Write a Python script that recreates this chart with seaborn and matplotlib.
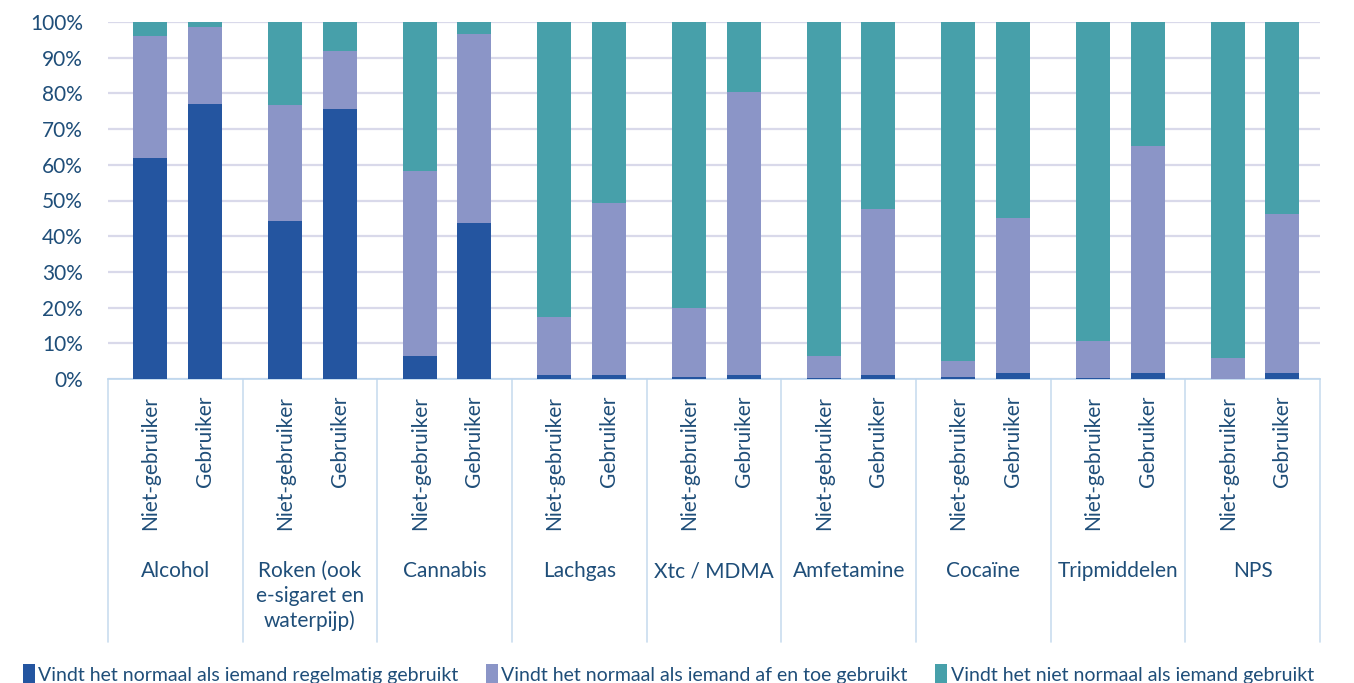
#!/usr/bin/env python3

import matplotlib
matplotlib.use("Agg")
import matplotlib.pyplot as plt
import matplotlib.transforms as mtransforms
from matplotlib.patches import Patch
import numpy as np
import pandas as pd
import seaborn as sns


# middelen en groepen
groups = ["Alcohol", "Roken (ook\ne-sigaret en\nwaterpijp)", "Cannabis", "Lachgas",
          "Xtc / MDMA", "Amfetamine", "Cocaïne", "Tripmiddelen", "NPS"]
users = ["Niet-gebruiker", "Gebruiker"]

# percentages per bar (Niet-gebruiker, Gebruiker per middel)
regelmatig = [61.8, 77.0, 44.2, 75.5, 6.4, 43.8, 1.1, 1.1, 0.5, 1.1,
              0.3, 1.1, 0.5, 1.6, 0.2, 1.6, 0.0, 1.6]
af_en_toe = [34.3, 21.6, 32.5, 16.3, 51.9, 52.8, 16.3, 48.3, 19.4, 79.2,
             6.1, 46.6, 4.5, 43.6, 10.4, 63.8, 5.9, 44.7]
niet_normaal = [3.9, 1.4, 23.3, 8.2, 41.7, 3.4, 82.6, 50.6, 80.1, 19.7,
                93.6, 52.3, 95.0, 54.8, 89.4, 34.6, 94.1, 53.7]

series_names = ["Vindt het normaal als iemand regelmatig gebruikt",
                "Vindt het normaal als iemand af en toe gebruikt",
                "Vindt het niet normaal als iemand gebruikt"]
colors = ["#2455A0", "#8B95C7", "#47A0AA"]
txt_color = "#1F4E79"

offsets = [0.315, 0.72]
bar_w = 0.252

df = pd.DataFrame({
    "pos": [g + offsets[u] for g in range(len(groups)) for u in range(2)],
    "label": [users[u] for g in range(len(groups)) for u in range(2)],
    "dark": regelmatig,
    "light": af_en_toe,
    "teal": niet_normaal,
})
df["c1"] = df["dark"]
df["c2"] = df["dark"] + df["light"]
df["c3"] = df["c2"] + df["teal"]

sns.set_theme(style="white")
plt.rcParams["font.family"] = ["Lato", "DejaVu Sans"]

fig = plt.figure(figsize=(13.54, 6.83), dpi=100)
ax = fig.add_axes([108 / 1354, 1 - 379 / 683, (1320 - 108) / 1354, 357 / 683])

min_gap = min(offsets[1] - offsets[0], 1 + offsets[0] - offsets[1])
for col, c in zip(["c3", "c2", "c1"], colors[::-1]):
    sns.barplot(data=df, x="pos", y=col, native_scale=True, color=c,
                width=bar_w / min_gap, saturation=1, linewidth=0, ax=ax, zorder=3)

ax.set_xlim(0, len(groups))
ax.set_ylim(0, 100)
ax.set_yticks(np.arange(0, 101, 10))
ax.set_yticklabels([f"{v}%" for v in range(0, 101, 10)], fontsize=15, color=txt_color)
ax.yaxis.grid(True, color="#D9D9EA", linewidth=1.6, zorder=0)
ax.set_axisbelow(True)
ax.set_xlabel("")
ax.set_ylabel("")
ax.tick_params(axis="y", length=0, pad=18)
ax.set_xticks(df["pos"])
ax.set_xticklabels(df["label"], rotation=90, fontsize=15, color=txt_color)
ax.tick_params(axis="x", length=0, pad=12)

for s in ["top", "right", "left"]:
    ax.spines[s].set_visible(False)
ax.spines["bottom"].set_color("#BDD7EE")
ax.spines["bottom"].set_linewidth(1.2)

trans = mtransforms.blended_transform_factory(ax.transData, ax.transAxes)
for g in range(len(groups) + 1):
    ax.plot([g, g], [0, -0.737], transform=trans, color="#CADDEF",
            linewidth=1.2, clip_on=False)
for g, name in enumerate(groups):
    ax.text(g + 0.5, -0.51, name, transform=trans, ha="center", va="top",
            fontsize=15, color=txt_color, linespacing=1.3)

handles = [Patch(facecolor=c, edgecolor="none") for c in colors]
fig.legend(handles, series_names, loc="center left", bbox_to_anchor=(0.004, 0.012),
           ncol=3, frameon=False, fontsize=14, labelcolor=txt_color,
           handlelength=0.6, handleheight=1.4, handletextpad=0.2, columnspacing=1.4)

fig.savefig("out.png", dpi=100)
